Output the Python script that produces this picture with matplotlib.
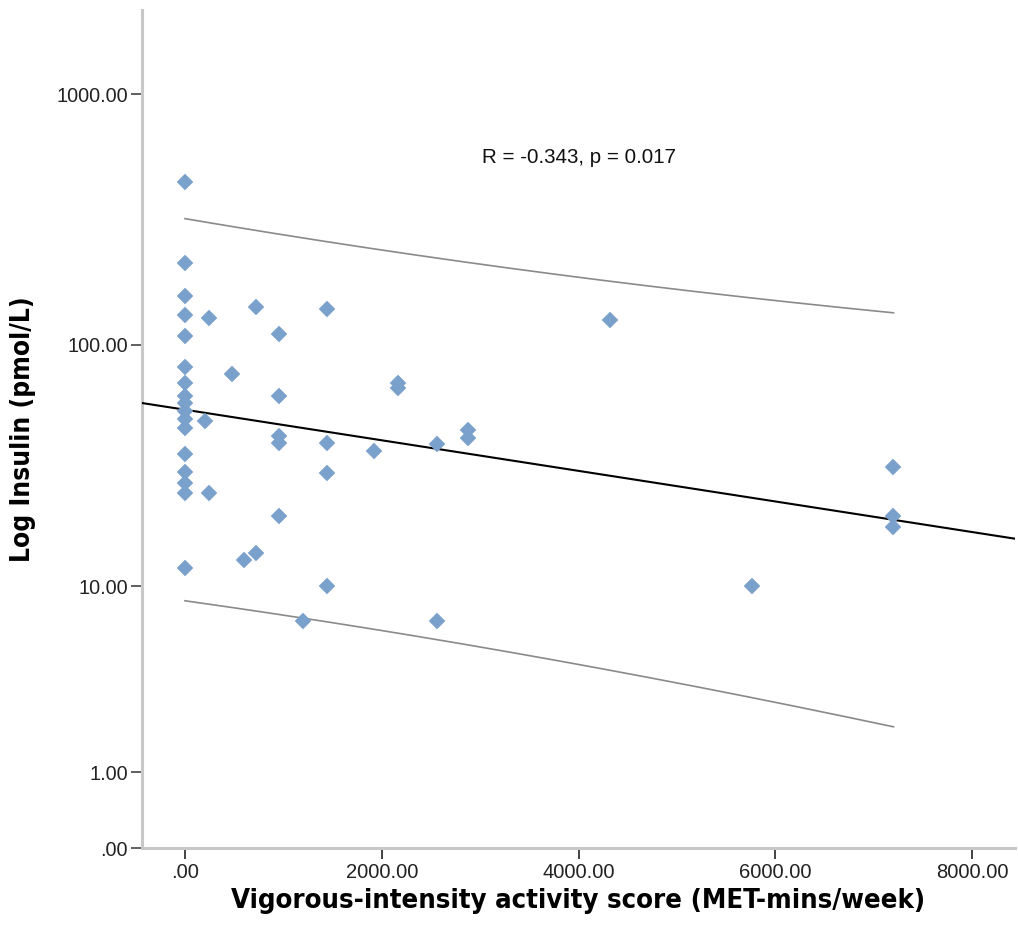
import math
import numpy as np
import matplotlib
matplotlib.use("Agg")
import matplotlib.pyplot as plt
from matplotlib import font_manager
from matplotlib.ticker import FixedLocator, FuncFormatter

# ---------------- data ----------------
activity = [0, 0, 0, 0, 0, 0, 0, 0, 0, 0, 0, 0, 0, 0, 0, 0, 0,
            240, 240, 200, 480, 600, 720, 720,
            960, 960, 960, 960, 960, 1200,
            1440, 1440, 1440, 1440, 1920, 2160, 2160,
            2560, 2560, 2880, 2880, 4320, 5760, 7200, 7200, 7200]
insulin = [448, 213, 157, 131, 108, 81.5, 70, 62, 58, 54, 50, 46, 36, 30.5, 27.5, 25, 12,
           128, 25, 49, 76, 13, 142, 14,
           110, 62, 42.5, 40, 20, 7,
           139, 40, 30, 10, 37, 70, 67,
           39.4, 7, 45, 42, 125, 10, 32, 20, 18]
annotation = "R = -0.343, p = 0.017"
x_label = "Vigorous-intensity activity score (MET-mins/week)"
y_label = "Log Insulin (pmol/L)"
x_ticks = [0, 2000, 4000, 6000, 8000]
y_ticks = [0, 1, 10, 100, 1000]

# ---------------- fonts ----------------
names = {f.name for f in font_manager.fontManager.ttflist}
base_font = "Liberation Sans" if "Liberation Sans" in names else "DejaVu Sans"
if "Liberation Sans Narrow" in names:
    label_font = dict(family="Liberation Sans Narrow", fontweight="bold")
else:
    label_font = dict(family="DejaVu Sans", fontstretch="condensed", fontweight="bold")
plt.rcParams["font.family"] = [base_font, "DejaVu Sans"]


# ---------------- regression in safe-log space ----------------
def fwd(y):
    y = np.asarray(y, dtype=float)
    return np.log10(np.clip(y, 0, None) + 1.0)


def inv(t):
    return np.power(10.0, np.asarray(t, dtype=float)) - 1.0


x = np.array(activity, dtype=float)
t = fwd(insulin)
n = len(x)
slope, intercept = np.polyfit(x, t, 1)
resid = t - (slope * x + intercept)
s = math.sqrt(np.sum(resid ** 2) / (n - 2))
xbar = x.mean()
sxx = np.sum((x - xbar) ** 2)


def t_quantile(p, df):
    # numeric quantile of Student t distribution
    c = math.gamma((df + 1) / 2) / (math.sqrt(df * math.pi) * math.gamma(df / 2))
    grid = np.linspace(0, 10, 200001)
    pdf = c * (1 + grid ** 2 / df) ** (-(df + 1) / 2)
    cdf = 0.5 + np.concatenate([[0], np.cumsum((pdf[1:] + pdf[:-1]) / 2 * np.diff(grid))])
    return float(np.interp(p, cdf, grid))


tcrit = t_quantile(0.975, n - 2)

# ---------------- figure ----------------
fig = plt.figure(figsize=(10.18, 9.44), dpi=100)
ax = fig.add_axes([142 / 1018, 1 - 848 / 944, (1015 - 142) / 1018, (848 - 10) / 944])
ax.set_yscale("function", functions=(fwd, inv))
ax.set_xlim(-437, 8435)
ax.set_ylim(0, inv(3.336))

xl = np.linspace(-437, 8435, 200)
ax.plot(xl, inv(slope * xl + intercept), color="black", lw=1.5, zorder=3)

xr = np.linspace(x.min(), x.max(), 200)
half = tcrit * s * np.sqrt(1 + 1 / n + (xr - xbar) ** 2 / sxx)
fit_r = slope * xr + intercept
ax.plot(xr, inv(fit_r + half), color="#8a8a8a", lw=1.2, zorder=2)
ax.plot(xr, inv(fit_r - half), color="#8a8a8a", lw=1.2, zorder=2)

ax.plot(x, insulin, linestyle="none", marker="D", ms=8.2, mfc="#7aa1cc",
        mec="#7aa1cc", mew=0.3, zorder=4)

ax.text(4000, 560, annotation, ha="center", va="center", fontsize=14.8, color="#111111")

for side in ("top", "right"):
    ax.spines[side].set_visible(False)
for side in ("left", "bottom"):
    ax.spines[side].set_color("#c8c8c8")
    ax.spines[side].set_linewidth(2.2)

ax.xaxis.set_major_locator(FixedLocator(x_ticks))
ax.yaxis.set_major_locator(FixedLocator(y_ticks))
ax.yaxis.set_minor_locator(FixedLocator([]))


def fmt(v, pos):
    s_ = f"{v:.2f}"
    return s_[1:] if s_.startswith("0.") else s_


ax.xaxis.set_major_formatter(FuncFormatter(fmt))
ax.yaxis.set_major_formatter(FuncFormatter(fmt))
ax.tick_params(axis="y", direction="out", length=8, width=1.2, color="#444444",
               labelsize=14.3, labelcolor="#222222", pad=2)
ax.tick_params(axis="x", direction="out", length=8, width=1.2, color="#222222",
               labelsize=14.5, labelcolor="#222222", pad=3)

ax.set_xlabel(x_label, fontsize=19.7, labelpad=4, **label_font)
ax.set_ylabel(y_label, fontsize=18.9, labelpad=15, **label_font)

fig.savefig("out.png", dpi=100, facecolor="white")
